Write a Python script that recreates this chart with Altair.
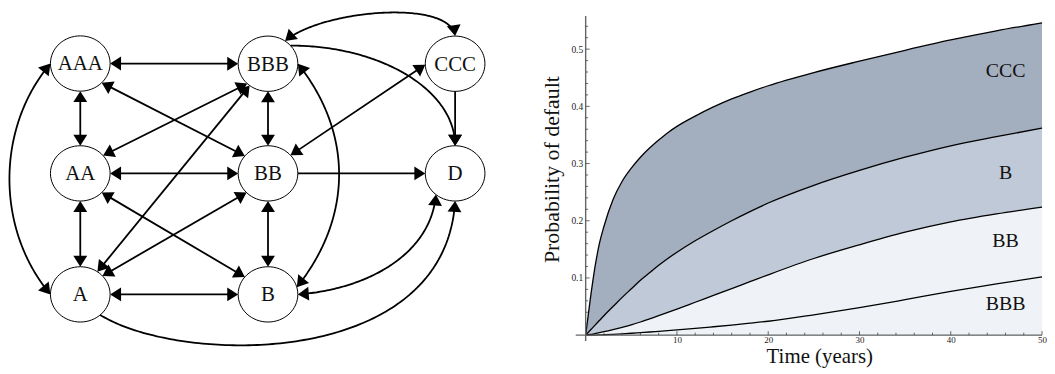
import math
import altair as alt
import pandas as pd

# ---------------- right panel: cumulative default probabilities ----------------
years = [0, 0.5, 1, 1.5, 2, 3, 4, 5, 6, 7, 8, 9, 10, 12, 14, 16, 18, 20, 25, 30, 35, 40, 45, 50]
pd_ccc = [0, 0.062, 0.117, 0.16, 0.19, 0.237, 0.269, 0.292, 0.311, 0.327, 0.341, 0.354,
          0.365, 0.383, 0.399, 0.413, 0.425, 0.436, 0.459, 0.479, 0.498, 0.516, 0.532, 0.546]
pd_b = [0, 0.0085, 0.017, 0.0255, 0.034, 0.05, 0.066, 0.081, 0.096, 0.109, 0.122, 0.134,
        0.145, 0.165, 0.183, 0.2, 0.216, 0.231, 0.262, 0.288, 0.311, 0.331, 0.347, 0.362]
pd_bb = [0, 0.0012, 0.0027, 0.0043, 0.006, 0.0097, 0.0137, 0.018, 0.023, 0.0285, 0.034,
         0.0397, 0.0455, 0.0575, 0.0695, 0.0815, 0.0935, 0.1055, 0.134, 0.158, 0.18, 0.198,
         0.212, 0.224]
pd_bbb = [0, 0.00005, 0.0002, 0.0004, 0.0007, 0.0014, 0.0023, 0.0033, 0.0044, 0.0055,
          0.0067, 0.0079, 0.0092, 0.0118, 0.0147, 0.0177, 0.0209, 0.0243, 0.0355, 0.048,
          0.062, 0.0765, 0.0895, 0.102]

band_names = ["CCC", "B", "BB", "BBB"]
band_label_t = [46, 46, 46, 46]
band_label_p = [0.4516, 0.2738, 0.1549, 0.0431]

x_major = [10, 20, 30, 40, 50]
x_minor = [v for v in range(2, 50, 2) if v % 10 != 0]
y_major = [0.1, 0.2, 0.3, 0.4, 0.5]
y_minor = [round(0.02 * k, 2) for k in range(1, 28) if k % 5 != 0]

# ---------------- left panel: rating transition graph ----------------
node_names = ["AAA", "BBB", "CCC", "AA", "BB", "D", "A", "B"]
node_x = [80.7, 269.5, 457.7, 80.7, 269.5, 457.7, 80.7, 269.5]
node_y = [62.8, 63.0, 63.0, 173.3, 173.3, 173.3, 295.0, 295.0]

# (source, target, arrows, source port angle, target port angle, source handle, target handle)
edges = [
    ("AAA", "BBB", "both", 0, 180, None, None),
    ("AAA", "AA", "both", 90, 270, None, None),
    ("AA", "A", "both", 90, 270, None, None),
    ("AA", "BB", "both", 0, 180, None, None),
    ("A", "B", "both", 0, 180, None, None),
    ("BBB", "BB", "both", 90, 270, None, None),
    ("BB", "B", "both", 90, 270, None, None),
    ("AAA", "BB", "both", 44, 219, None, None),
    ("BBB", "AA", "both", 134, 320, None, None),
    ("BBB", "A", "both", 128, 305, None, None),
    ("AA", "B", "both", 44, 219, None, None),
    ("BB", "A", "both", 136, 318, None, None),
    ("CCC", "BB", "both", 178, 319, None, None),
    ("BB", "D", "end", 0, 180, None, None),
    ("CCC", "D", "end", 90, 270, None, None),
    ("BBB", "D", "end", 319, 270, (91, 0), (0, -56)),
    ("BBB", "CCC", "both", 305, 270, (35, -31), (-5, -38)),
    ("AAA", "A", "both", 180, 180, (-55, 65), (-55, -65)),
    ("BBB", "B", "both", 0, 345, (56, 70), (56, -70)),
    ("B", "D", "both", 0, 130, (70, -5), (-5, 60)),
    ("A", "D", "end", 48, 90, (80, 50), (-10, 170)),
]

RX, RY = 30.0, 27.8
ARROW_LEN = 11.0
ARROW = "M0,0L-2,-1.27L-2,1.27Z"
ELLIPSE = "M" + "L".join(
    f"{math.cos(2 * math.pi * k / 64):.4f},{RY / RX * math.sin(2 * math.pi * k / 64):.4f}"
    for k in range(64)) + "Z"

pos = {n: (x, y) for n, x, y in zip(node_names, node_x, node_y)}


def port(n, ang):
    cx, cy = pos[n]
    a = math.radians(ang)
    return (cx + RX * math.cos(a), cy + RY * math.sin(a))


def angle_of(dx, dy):
    return math.degrees(math.atan2(dy, dx)) % 360


TRIM = 7.0
line_rows, arrow_rows = [], []
for eid, (s, d, kind, ps, pdd, hs, hd) in enumerate(edges):
    p0 = port(s, ps)
    p3 = port(d, pdd)
    if hs is None:
        L = math.hypot(p3[0] - p0[0], p3[1] - p0[1])
        ux, uy = (p3[0] - p0[0]) / L, (p3[1] - p0[1]) / L
        a1 = (p3[0] - ux * TRIM, p3[1] - uy * TRIM)
        a0 = (p0[0] + ux * TRIM, p0[1] + uy * TRIM) if kind == "both" else p0
        pts = [a0, a1]
        dir_end = (ux, uy)
        dir_start = (-ux, -uy)
    else:
        p1 = (p0[0] + hs[0], p0[1] + hs[1])
        p2 = (p3[0] + hd[0], p3[1] + hd[1])
        pts = []
        n = 120
        for i in range(n + 1):
            t = i / n
            a, b, c, e = (1 - t) ** 3, 3 * (1 - t) ** 2 * t, 3 * (1 - t) * t ** 2, t ** 3
            pts.append((a * p0[0] + b * p1[0] + c * p2[0] + e * p3[0],
                        a * p0[1] + b * p1[1] + c * p2[1] + e * p3[1]))
        pts = [p for p in pts if math.hypot(p[0] - p3[0], p[1] - p3[1]) >= TRIM]
        if kind == "both":
            pts = [p for p in pts if math.hypot(p[0] - p0[0], p[1] - p0[1]) >= TRIM]
        dir_end = (p3[0] - p2[0], p3[1] - p2[1])
        dir_start = (p0[0] - p1[0], p0[1] - p1[1])
    for k, (x, y) in enumerate(pts):
        line_rows.append({"edge": eid, "k": k, "x": x, "y": y})
    arrow_rows.append({"x": p3[0], "y": p3[1], "ang": angle_of(*dir_end)})
    if kind == "both":
        arrow_rows.append({"x": p0[0], "y": p0[1], "ang": angle_of(*dir_start)})

nodes_df = pd.DataFrame({"name": node_names, "x": node_x, "y": node_y})
lines_df = pd.DataFrame(line_rows)
arrows_df = pd.DataFrame(arrow_rows)

W1, H1 = 500, 358
gx = alt.Scale(domain=[8, 8 + W1], nice=False, zero=False)
gy = alt.Scale(domain=[8, 8 + H1], nice=False, zero=False, reverse=True)
GX = alt.X("x:Q", scale=gx, axis=None)
GY = alt.Y("y:Q", scale=gy, axis=None)

g_nodes = alt.Chart(nodes_df).mark_point(
    shape=ELLIPSE, size=4 * RX * RX, filled=True, fill="white", stroke="black",
    strokeWidth=1, opacity=1
).encode(x=GX, y=GY)

g_lines = alt.Chart(lines_df).mark_line(
    color="black", strokeWidth=1.8, strokeJoin="round"
).encode(x=GX, y=GY, detail="edge:N", order="k:Q")

g_arrows = alt.Chart(arrows_df).mark_point(
    shape=ARROW, size=ARROW_LEN * ARROW_LEN, filled=True, color="black", opacity=1,
    strokeWidth=0
).encode(x=GX, y=GY, angle=alt.Angle("ang:Q", scale=None))

g_text = alt.Chart(nodes_df).mark_text(
    font="Liberation Serif", fontSize=21, baseline="alphabetic", dy=7, color="#111"
).encode(x=GX, y=GY, text="name:N")

left = alt.layer(g_nodes, g_lines, g_arrows, g_text).properties(width=W1, height=H1)

# ---------------- right panel chart ----------------
W2, H2 = 459, 328
df = pd.DataFrame({"t": years, "CCC": pd_ccc, "B": pd_b, "BB": pd_bb, "BBB": pd_bbb})
xs = alt.Scale(domain=[0, 50], nice=False, zero=False)
ys = alt.Scale(domain=[0, 0.5701], nice=False, zero=False)
serif = "Liberation Serif"
axc = "#666666"

x_axis = alt.Axis(values=x_major, domain=False, ticks=False, tickSize=0, grid=False,
                  labelFont=serif, labelFontSize=9, labelColor="#222", labelPadding=0,
                  labelFlush=False, labelOverlap=False, title="Time (years)",
                  titleFont=serif, titleFontSize=21, titleFontWeight="normal",
                  titleColor="#111", titleX=235, titleY=28, titleBaseline="alphabetic",
                  titleAlign="center")
y_axis = alt.Axis(values=y_major, format=".1f", domain=False, ticks=False, tickSize=0,
                  grid=False, labelFont=serif, labelFontSize=9.5, labelColor="#222",
                  labelPadding=3, labelFlush=False, labelOverlap=False,
                  title="Probability of default",
                  titleFont=serif, titleFontSize=22, titleFontWeight="normal",
                  titleColor="#111", titleAngle=270, titleX=-27, titleY=161,
                  titleBaseline="alphabetic", titleAlign="center")


def RXc(field):
    return alt.X(field, scale=xs, axis=x_axis)


def RYc(field):
    return alt.Y(field, scale=ys, axis=y_axis)


band_colors = {"CCC": "#a3aebe", "B": "#c0c9d7", "BB": "#eff3f7"}
layers = []
for name in ["CCC", "B", "BB"]:
    layers.append(alt.Chart(df).mark_area(color=band_colors[name], interpolate="monotone",
                                          opacity=1).encode(x=RXc("t:Q"), y=RYc(f"{name}:Q")))
for name in ["CCC", "B", "BB", "BBB"]:
    layers.append(alt.Chart(df).mark_line(color="black", strokeWidth=1.3,
                                          interpolate="monotone").encode(
        x=RXc("t:Q"), y=RYc(f"{name}:Q")))

labels_df = pd.DataFrame({"name": band_names, "t": band_label_t, "p": band_label_p})
layers.append(alt.Chart(labels_df).mark_text(
    font=serif, fontSize=20, baseline="alphabetic", align="center", color="#111"
).encode(x=RXc("t:Q"), y=RYc("p:Q"), text="name:N"))

# axis lines drawn through the origin
layers.append(alt.Chart(pd.DataFrame({"t": [-1.09], "b": [50.0], "p": [0.0]})).mark_rule(
    color=axc, strokeWidth=1.4).encode(x=RXc("t:Q"), x2="b:Q", y=RYc("p:Q")))
layers.append(alt.Chart(pd.DataFrame({"t": [0.0], "p": [-0.0103], "hi": [0.558]})).mark_rule(
    color=axc, strokeWidth=1.4).encode(x=RXc("t:Q"), y=RYc("p:Q"), y2="hi:Q"))

# inward ticks
for vals, ln in [(x_major, 4), (x_minor, 2.5)]:
    layers.append(alt.Chart(pd.DataFrame({"t": vals})).mark_rule(
        color="#444", strokeWidth=0.8).encode(
        x=RXc("t:Q"), y=alt.value(H2), y2=alt.value(H2 - ln)))
for vals, ln in [(y_major, 4), (y_minor, 2.5)]:
    layers.append(alt.Chart(pd.DataFrame({"p": vals})).mark_rule(
        color="#444", strokeWidth=0.8).encode(
        y=RYc("p:Q"), x=alt.value(0), x2=alt.value(ln)))

right = alt.layer(*layers).properties(width=W2, height=H2)

chart = alt.hconcat(left, right, spacing=81, bounds="flush").properties(
    padding=0, background="white"
).configure_view(stroke="transparent", strokeWidth=0)

chart.save("out.html", embed_options={"renderer": "svg", "actions": False})
